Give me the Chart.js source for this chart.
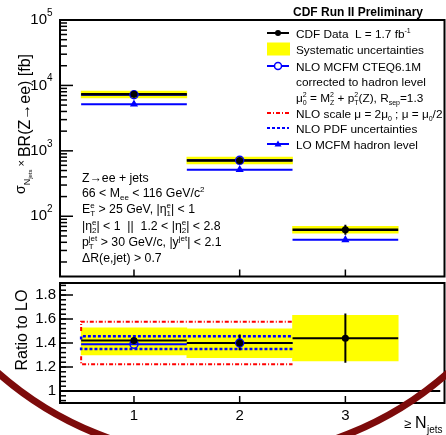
<!DOCTYPE html>
<html>
<head>
<meta charset="utf-8">
<script src="https://cdn.jsdelivr.net/npm/chart.js@4.4.1/dist/chart.umd.min.js"></script>
<style>
html, body { margin: 0; padding: 0; background: #fff; }
#wrap { position: relative; width: 446px; height: 435px; overflow: hidden; }
canvas { position: absolute; left: 0; }
#topPanel { top: 0; }
#ratioPanel { top: 270px; }
</style>
</head>
<body>
<div id="wrap">
  <canvas id="topPanel" width="446" height="282"></canvas>
  <canvas id="ratioPanel" width="446" height="165"></canvas>
</div>
<script>
const FONT = '"Liberation Sans", Arial, Helvetica, sans-serif';

// jet multiplicity bins
const nJets = [1, 2, 3];
const binLo = [0.5, 1.5, 2.5];
const binHi = [1.5, 2.5, 3.5];

// cross section x BR [fb]
const dataXsec  = [7300, 713, 62];
const dataErrLo = [6950, 680, 52];
const dataErrHi = [7650, 750, 74];
const systLo    = [6450, 630, 55];
const systHi    = [8200, 805, 70];
const nloXsec   = [7200, 715];
const loXsec    = [5150, 515, 43.7];

// ratio to LO
const ratioData    = [1.42, 1.40, 1.44];
const ratioErrLo   = [1.405, 1.34, 1.236];
const ratioErrHi   = [1.435, 1.47, 1.645];
const ratioSystLo  = [1.30, 1.277, 1.25];
const ratioSystHi  = [1.527, 1.518, 1.63];
const ratioNlo     = [1.39, 1.40];
const ratioScaleLo = [1.29, 1.223];
const ratioScaleHi = [1.50, 1.578];
const ratioPdfLo   = [1.363, 1.349];
const ratioPdfHi   = [1.43, 1.457];

// axis ticks
const ratioTicks = [1, 1.2, 1.4, 1.6, 1.8];
const X_MIN = 0.3, X_MAX = 3.9;

const YELLOW = '#ffff00', BLUE = '#0000ff', RED = '#ff0000';

// helpers turning the arrays into point lists
const hseg = vals => vals.flatMap((v, i) => [{x: binLo[i], y: v}, {x: binHi[i], y: v}, {x: binHi[i], y: null}]);
const vseg = (lo, hi) => lo.flatMap((v, i) => [{x: nJets[i], y: v}, {x: nJets[i], y: hi[i]}, {x: nJets[i], y: null}]);
const steps = vals => vals.map((v, i) => ({x: binLo[i], y: v})).concat({x: binHi[vals.length - 1], y: vals[vals.length - 1]});
const pts = vals => vals.map((v, i) => ({x: nJets[i], y: v}));
const bars = (lo, hi) => lo.map((v, i) => ({x: nJets[i], y: [v, hi[i]]}));

const segLine = (data, color, width, order, dash) => ({
  type: 'line', data, borderColor: color, borderWidth: width, borderDash: dash || [],
  stepped: dash ? 'after' : false,
  pointRadius: 0, fill: false, spanGaps: false, tension: 0, order
});
const markers = (data, style, radius, fillColor, edgeColor, order) => ({
  type: 'line', data, showLine: false, pointStyle: style, pointRadius: radius,
  backgroundColor: fillColor, borderColor: edgeColor, pointBorderWidth: 1.5, order
});
const band = (data, order) => ({
  type: 'bar', data, backgroundColor: YELLOW, borderWidth: 0,
  barPercentage: 1, categoryPercentage: 1, grouped: false, order
});

// text with sub/superscripts: parts are strings or {t, sub, sup}
function rich(ctx, x, y, parts, size) {
  let cx = x;
  for (const p of parts) {
    const o = typeof p === 'string' ? {t: p} : p;
    ctx.font = size + 'px ' + FONT;
    ctx.fillText(o.t, cx, y);
    cx += ctx.measureText(o.t).width;
    let w = 0;
    ctx.font = Math.round(size * 0.62) + 'px ' + FONT;
    if (o.sup) { ctx.fillText(o.sup, cx, y - size * 0.42); w = ctx.measureText(o.sup).width; }
    if (o.sub) { ctx.fillText(o.sub, cx, y + size * 0.28); w = Math.max(w, ctx.measureText(o.sub).width); }
    cx += w;
  }
  return cx;
}

function line(ctx, x1, y1, x2, y2) {
  ctx.beginPath(); ctx.moveTo(x1, y1); ctx.lineTo(x2, y2); ctx.stroke();
}

const topDeco = {
  id: 'topDeco',
  afterDraw(chart) {
    const {ctx, chartArea: a, scales: {x, y}} = chart;
    ctx.save();
    ctx.strokeStyle = '#000';
    ctx.fillStyle = '#000';
    ctx.lineWidth = 2;
    ctx.strokeRect(a.left, a.top, a.right - a.left + 4, a.bottom - a.top);

    // log ticks on the inside of the frame
    ctx.lineWidth = 1.5;
    for (let e = 1; e <= 5; e++) {
      for (let m = 1; m <= 9; m++) {
        const v = m * Math.pow(10, e);
        if (v < y.min || v > y.max) continue;
        const py = y.getPixelForValue(v);
        line(ctx, a.left, py, a.left + (m === 1 ? 13 : 7), py);
        if (m === 1) {
          ctx.textBaseline = 'middle';
          ctx.textAlign = 'right';
          ctx.font = '15px ' + FONT;
          ctx.fillText('10', 47, py);
          ctx.textAlign = 'left';
          ctx.font = '10px ' + FONT;
          ctx.fillText(String(e), 47, py - 7);
        }
      }
    }
    nJets.forEach(n => {
      const px = x.getPixelForValue(n);
      line(ctx, px, a.bottom, px, a.bottom - 7);
    });

    ctx.textAlign = 'left';
    ctx.textBaseline = 'alphabetic';

    // header
    ctx.font = 'bold 12px ' + FONT;
    ctx.fillText('CDF Run II Preliminary', 293, 16);

    // legend
    const lx = 296, sx0 = 267, sx1 = 289, sc = 278;
    const fs = 11.8;
    const rows = [33, 49, 66, 81, 97, 113, 128, 144];
    rich(ctx, lx, rows[0] + 4.5, ['CDF Data  L = 1.7 fb', {t: '', sup: '-1'}], fs);
    rich(ctx, lx, rows[1] + 4.5, ['Systematic uncertainties'], fs);
    rich(ctx, lx, rows[2] + 4.5, ['NLO MCFM CTEQ6.1M'], fs);
    rich(ctx, lx, rows[3] + 4.5, ['corrected to hadron level'], fs);
    rich(ctx, lx, rows[4] + 4.5, [{t: 'μ', sub: '0', sup: '2'}, ' = M', {t: '', sub: 'Z', sup: '2'}, ' + p', {t: '', sub: 'T', sup: '2'}, '(Z), R', {t: '', sub: 'sep'}, '=1.3'], fs);
    rich(ctx, lx, rows[5] + 4.5, ['NLO scale μ = 2μ', {t: '', sub: '0'}, ' ; μ = μ', {t: '', sub: '0'}, '/2'], fs);
    rich(ctx, lx, rows[6] + 4.5, ['NLO PDF uncertainties'], fs);
    rich(ctx, lx, rows[7] + 4.5, ['LO MCFM hadron level'], fs);

    ctx.lineWidth = 2;
    ctx.strokeStyle = '#000';
    line(ctx, sx0, rows[0], sx1, rows[0]);
    ctx.beginPath(); ctx.arc(sc, rows[0], 3, 0, 2 * Math.PI); ctx.fill();
    ctx.fillStyle = YELLOW;
    ctx.fillRect(sx0, rows[1] - 6.5, sx1 - sx0 + 1, 13);
    ctx.strokeStyle = BLUE;
    line(ctx, sx0, rows[2], sx1, rows[2]);
    ctx.fillStyle = '#fff';
    ctx.lineWidth = 1.5;
    ctx.beginPath(); ctx.arc(sc, rows[2], 3.5, 0, 2 * Math.PI); ctx.fill(); ctx.stroke();
    ctx.lineWidth = 2;
    ctx.strokeStyle = RED;
    ctx.setLineDash([4, 2, 1, 2]);
    line(ctx, sx0, rows[5], sx1, rows[5]);
    ctx.strokeStyle = BLUE;
    ctx.setLineDash([3, 2]);
    line(ctx, sx0, rows[6], sx1, rows[6]);
    ctx.setLineDash([]);
    line(ctx, sx0, rows[7], sx1, rows[7]);
    ctx.fillStyle = BLUE;
    ctx.beginPath();
    ctx.moveTo(sc, rows[7] - 3.5); ctx.lineTo(sc + 3.5, rows[7] + 2.5); ctx.lineTo(sc - 3.5, rows[7] + 2.5);
    ctx.closePath(); ctx.fill();

    // selection cuts
    ctx.fillStyle = '#000';
    const cf = 12.3, cx0 = 82;
    rich(ctx, cx0, 182, ['Z→ee + jets'], cf);
    rich(ctx, cx0, 197, ['66 < M', {t: '', sub: 'ee'}, ' < 116 GeV/c', {t: '', sup: '2'}], cf);
    rich(ctx, cx0, 213, [{t: 'E', sub: 'T', sup: 'e'}, ' > 25 GeV, |η', {t: '', sub: '1', sup: 'e'}, '| < 1'], cf);
    rich(ctx, cx0, 230, ['|η', {t: '', sub: '2', sup: 'e'}, '| < 1  ||  1.2 < |η', {t: '', sub: '2', sup: 'e'}, '| < 2.8'], cf);
    rich(ctx, cx0, 246, [{t: 'p', sub: 'T', sup: 'jet'}, ' > 30 GeV/c, |y', {t: '', sup: 'jet'}, '| < 2.1'], cf);
    rich(ctx, cx0, 262, ['ΔR(e,jet) > 0.7'], cf);

    // y axis title
    ctx.save();
    ctx.translate(30, 194);
    ctx.rotate(-Math.PI / 2);
    let tx = 0;
    ctx.font = '14px ' + FONT; ctx.fillText('σ', tx, -5); tx += ctx.measureText('σ').width;
    ctx.font = '9px ' + FONT; ctx.fillText('N', tx, 0); tx += ctx.measureText('N').width;
    ctx.font = '6px ' + FONT; ctx.fillText('jets', tx, 2); tx += ctx.measureText('jets').width + 3;
    ctx.font = '11px ' + FONT; ctx.fillText('×', tx, -5); tx += ctx.measureText('×').width + 3;
    ctx.font = '16px ' + FONT; ctx.fillText('BR(Z→ee) [fb]', tx, 0);
    ctx.restore();

    ctx.restore();
  }
};

const ratioDeco = {
  id: 'ratioDeco',
  afterDraw(chart) {
    const {ctx, chartArea: a, scales: {x, y}} = chart;
    ctx.save();
    ctx.strokeStyle = '#000';
    ctx.fillStyle = '#000';
    ctx.lineWidth = 2;
    ctx.strokeRect(a.left, a.top, a.right - a.left + 4, a.bottom - a.top);

    ctx.lineWidth = 1.5;
    for (let k = 23; k <= 47; k++) {
      const py = y.getPixelForValue(k * 0.04);
      line(ctx, a.left, py, a.left + 6, py);
    }
    y.ticks.forEach(t => {
      const py = y.getPixelForValue(t.value);
      line(ctx, a.left, py, a.left + 13, py);
    });
    nJets.forEach(n => {
      const px = x.getPixelForValue(n);
      line(ctx, px, a.bottom, px, a.bottom - 7);
    });

    // axis titles
    ctx.textAlign = 'left';
    ctx.textBaseline = 'alphabetic';
    ctx.font = '13px ' + FONT; ctx.fillText('≥', 404, 158);
    ctx.font = '16px ' + FONT; ctx.fillText('N', 415, 158);
    ctx.font = '10px ' + FONT; ctx.fillText('jets', 427, 163);

    ctx.save();
    ctx.translate(27, 60);
    ctx.rotate(-Math.PI / 2);
    ctx.textAlign = 'center';
    ctx.font = '16px ' + FONT;
    ctx.fillText('Ratio to LO', 0, 0);
    ctx.restore();

    // slide background arc
    ctx.strokeStyle = '#7d0b0b';
    ctx.lineWidth = 7;
    ctx.beginPath();
    ctx.arc(223, -152, 340, 0, Math.PI);
    ctx.stroke();
    ctx.restore();
  }
};

const xScale = {
  type: 'linear', min: X_MIN, max: X_MAX, offset: false,
  grid: {display: false, drawTicks: false}, border: {display: false},
  ticks: {stepSize: 1, includeBounds: false, color: '#000', font: {family: FONT, size: 15}, padding: 4, maxRotation: 0}
};

new Chart(document.getElementById('topPanel'), {
  type: 'line',
  data: {
    datasets: [
      band(bars(systLo, systHi), 10),
      segLine(hseg(loXsec), BLUE, 2, 6),
      markers(pts(loXsec), 'triangle', 3.2, BLUE, BLUE, 5),
      segLine(hseg(nloXsec), BLUE, 2, 4),
      segLine(hseg(dataXsec), '#000', 2.5, 3),
      segLine(vseg(dataErrLo, dataErrHi), '#000', 2, 3),
      markers(pts(nloXsec), 'circle', 4, 'rgba(0,0,0,0)', BLUE, 2),
      markers(pts(dataXsec), 'circle', 2.8, '#000', '#000', 1)
    ]
  },
  options: {
    responsive: false,
    animation: false,
    layout: {padding: {left: 60, top: 20, right: 0, bottom: 4}},
    plugins: {legend: {display: false}, tooltip: {enabled: false}},
    scales: {
      x: {...xScale, display: false},
      y: {type: 'logarithmic', min: 12, max: 1e5, display: false}
    }
  },
  plugins: [topDeco]
});

new Chart(document.getElementById('ratioPanel'), {
  type: 'line',
  data: {
    datasets: [
      band(bars(ratioSystLo, ratioSystHi), 10),
      segLine([{x: X_MIN, y: 1}, {x: X_MAX, y: 1}], '#000', 2, 9),
      segLine(steps(ratioScaleHi), RED, 2, 8, [4, 2, 1, 2]),
      segLine(steps(ratioScaleLo), RED, 2, 8, [4, 2, 1, 2]),
      segLine(steps(ratioPdfHi), BLUE, 2.5, 7, [3, 2]),
      segLine(steps(ratioPdfLo), BLUE, 2.5, 7, [3, 2]),
      segLine(hseg(ratioNlo), BLUE, 2, 6),
      segLine(hseg(ratioData), '#000', 2, 4),
      segLine(vseg(ratioErrLo, ratioErrHi), '#000', 2, 4),
      markers(pts(ratioNlo), 'circle', 4, 'rgba(0,0,0,0)', BLUE, 2),
      markers(pts(ratioData), 'circle', 2.8, '#000', '#000', 1)
    ]
  },
  options: {
    responsive: false,
    animation: false,
    layout: {padding: {left: 0, top: 9, right: 0, bottom: 0}},
    plugins: {legend: {display: false}, tooltip: {enabled: false}},
    scales: {
      x: {...xScale, afterFit: s => { s.height = 32; }},
      y: {
        type: 'linear', min: 0.9, max: 1.9,
        grid: {display: false, drawTicks: false}, border: {display: false},
        ticks: {color: '#000', font: {family: FONT, size: 15}, padding: 4, callback: v => String(+v.toFixed(1))},
        afterBuildTicks: s => { s.ticks = ratioTicks.map(v => ({value: v})); },
        afterFit: s => { s.width = 60; }
      }
    }
  },
  plugins: [ratioDeco]
});
</script>
</body>
</html>
